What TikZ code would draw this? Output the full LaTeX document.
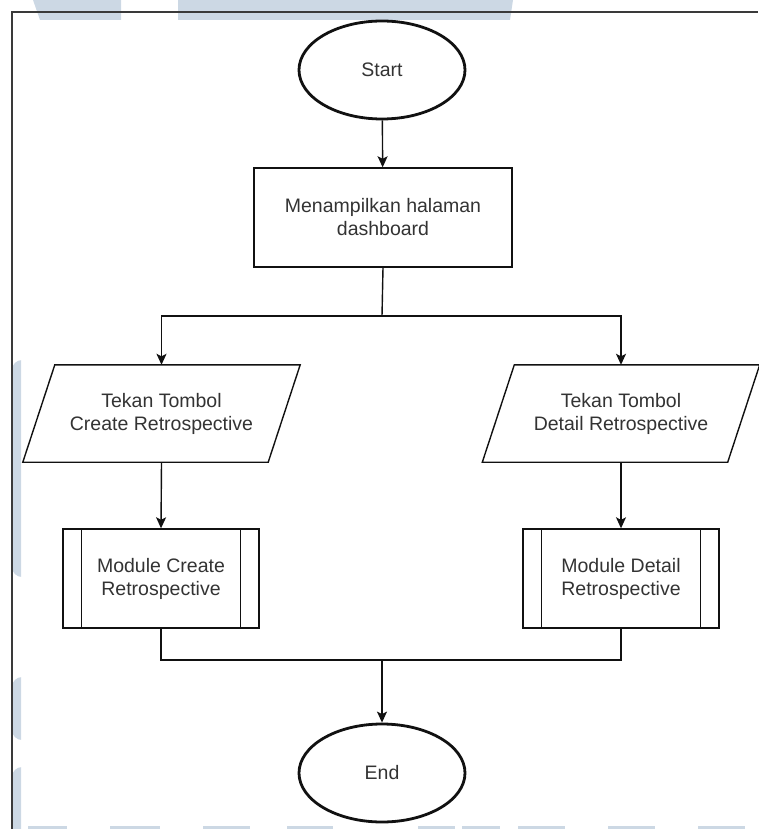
\documentclass[tikz,border=0pt]{standalone}
\usepackage{fontspec}
\setmainfont{Liberation Sans}
\usetikzlibrary{shapes.geometric,arrows.meta,calc}

\definecolor{ink}{HTML}{111111}
\definecolor{txt}{HTML}{333333}
\definecolor{wmark}{HTML}{CCD8E4}
\definecolor{framec}{HTML}{3A3A3A}

\tikzset{
  base/.style={draw=ink, line width=1.4pt, text=txt, align=center, inner sep=0pt,
               font=\fontsize{19.5}{23}\selectfont},
  terminal/.style={base, ellipse, line width=2.8pt, minimum width=166pt, minimum height=98pt},
  procbox/.style={base, rectangle, minimum width=258pt, minimum height=99pt},
  iobox/.style={rectangle, align=center, inner sep=0pt, text=txt,
                font=\fontsize{19.5}{23}\selectfont, minimum width=245pt, minimum height=97pt},
  modbox/.style={base, rectangle, minimum width=196pt, minimum height=99pt},
  arr/.style={draw=ink, line width=1.4pt, -{Stealth[length=11pt,width=10pt,inset=2.5pt]}},
  link/.style={draw=ink, line width=1.4pt},
}

\begin{document}
\begin{tikzpicture}[x=1pt, y=-1pt]
  \useasboundingbox (0,0) rectangle (758,829);

  % faint watermark pieces along the edges
  \fill[wmark] (33,0) -- (121,0) -- (121,20) -- (40,20) -- cycle;
  \fill[wmark] (178,0) -- (513,0) -- (510,20) -- (178,20) -- cycle;
  \begin{scope}
    \clip (12,0) rectangle (21,829);
    \fill[wmark, rounded corners=10pt] (12,360) rectangle (40,577);
    \fill[wmark, rounded corners=10pt] (12,677) rectangle (40,740);
    \fill[wmark, rounded corners=10pt] (12,767) rectangle (40,860);
  \end{scope}
  \foreach \a/\b in {28/67,110/160,203/250,287/333,418/455,462/500,518/565,608/655,698/745}
    \fill[wmark] (\a,826) rectangle (\b,829);

  % outer frame
  \draw[framec, line width=1.2pt] (12,829) -- (12,12) -- (758,12);

  % flow nodes
  \node[terminal] (start) at (382,70) {Start};
  \node[procbox]  (dash)  at (383,217.5) {Menampilkan halaman\\dashboard};

  \node[iobox] (inL) at (161.5,413.5) {Tekan Tombol\\Create Retrospective};
  \node[iobox] (inR) at (621,413.5)   {Tekan Tombol\\Detail Retrospective};
  \foreach \n in {inL,inR}
    \draw[ink, line width=1.4pt]
      ($(\n.north west)+(16,0)$) -- ($(\n.north east)+(16,0)$) --
      ($(\n.south east)+(-16,0)$) -- ($(\n.south west)+(-16,0)$) -- cycle;

  \node[modbox] (modL) at (161,578.5) {Module Create\\Retrospective};
  \node[modbox] (modR) at (621,578.5) {Module Detail\\Retrospective};
  \foreach \n in {modL,modR}{
    \draw[link] ($(\n.north west)+(19,0)$) -- ($(\n.south west)+(19,0)$);
    \draw[link] ($(\n.north east)+(-19,0)$) -- ($(\n.south east)+(-19,0)$);
  }

  \node[terminal] (end) at (382,773) {End};

  % connectors
  \coordinate (split) at (382,316);
  \coordinate (join)  at (382,660);

  \draw[arr] (start) -- (dash);
  \draw[link] (dash.south) -- (split);
  \draw[arr] (split) -| (inL.north);
  \draw[arr] (split) -| (inR.north);
  \draw[arr] (inL.south) -- (modL.north);
  \draw[arr] (inR.south) -- (modR.north);
  \draw[link] (modL.south) |- (join);
  \draw[link] (modR.south) |- (join);
  \draw[arr] (join) -- (end.north);
\end{tikzpicture}
\end{document}
